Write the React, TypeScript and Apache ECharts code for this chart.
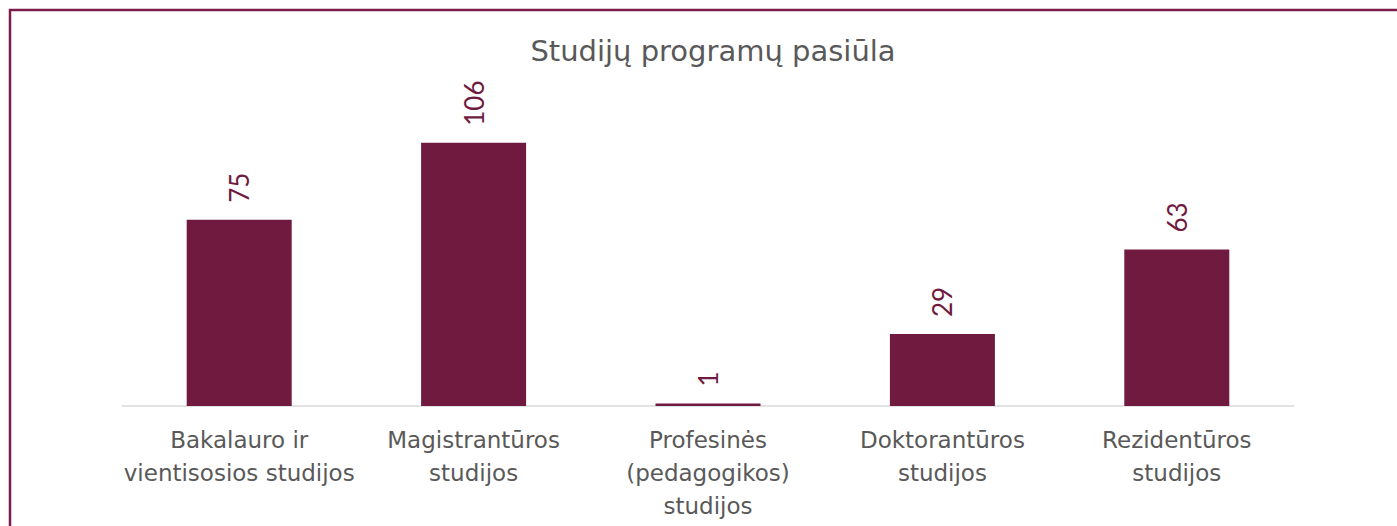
import React, { useEffect, useRef } from "react";
import * as echarts from "echarts";

const categories = [
  "Bakalauro ir\nvientisosios studijos",
  "Magistrantūros\nstudijos",
  "Profesinės\n(pedagogikos)\nstudijos",
  "Doktorantūros\nstudijos",
  "Rezidentūros\nstudijos",
];
const values = [75, 106, 1, 29, 63];
const title = "Studijų programų pasiūla";

const MAROON = "#701a40";
const GREY = "#595959";
const FONT = "DejaVu Sans";

export default function App() {
  const ref = useRef<HTMLDivElement>(null);
  useEffect(() => {
    if (!ref.current) return;
    const chart = echarts.init(ref.current, undefined, { renderer: "svg" });
    chart.setOption({
      animation: false,
      backgroundColor: "#ffffff",
      title: {
        text: title,
        left: 708,
        textAlign: "center",
        top: 31,
        textStyle: { fontFamily: FONT, fontSize: 29, fontWeight: "normal", color: GREY },
      },
      grid: { left: 122, right: 103, bottom: 120, top: 108, containLabel: false },
      xAxis: {
        type: "category",
        data: categories,
        axisLine: { show: true, lineStyle: { color: "#d9d9d9", width: 1.5 } },
        axisTick: { show: false },
        axisLabel: {
          interval: 0,
          margin: 17,
          fontFamily: FONT,
          fontSize: 23,
          lineHeight: 33,
          color: GREY,
        },
      },
      yAxis: {
        type: "value",
        min: 0,
        max: 120,
        show: false,
        splitLine: { show: false },
      },
      series: [
        {
          type: "bar",
          data: values,
          barWidth: 105,
          itemStyle: { color: MAROON },
          label: {
            show: true,
            position: "top",
            rotate: 90,
            align: "left",
            verticalAlign: "middle",
            distance: 17,
            fontFamily: "Lato",
            fontSize: 26,
            color: MAROON,
          },
        },
      ],
      graphic: [
        {
          type: "polyline",
          shape: { points: [[10, 526], [10, 10], [1397, 10]] },
          style: { stroke: "#7b1d4b", lineWidth: 2.5, fill: "none" },
          z: 100,
        },
      ],
    });
    return () => chart.dispose();
  }, []);
  return (
    <div
      ref={ref}
      style={{ position: "fixed", left: 0, top: 0, width: 1397, height: 526 }}
    />
  );
}
